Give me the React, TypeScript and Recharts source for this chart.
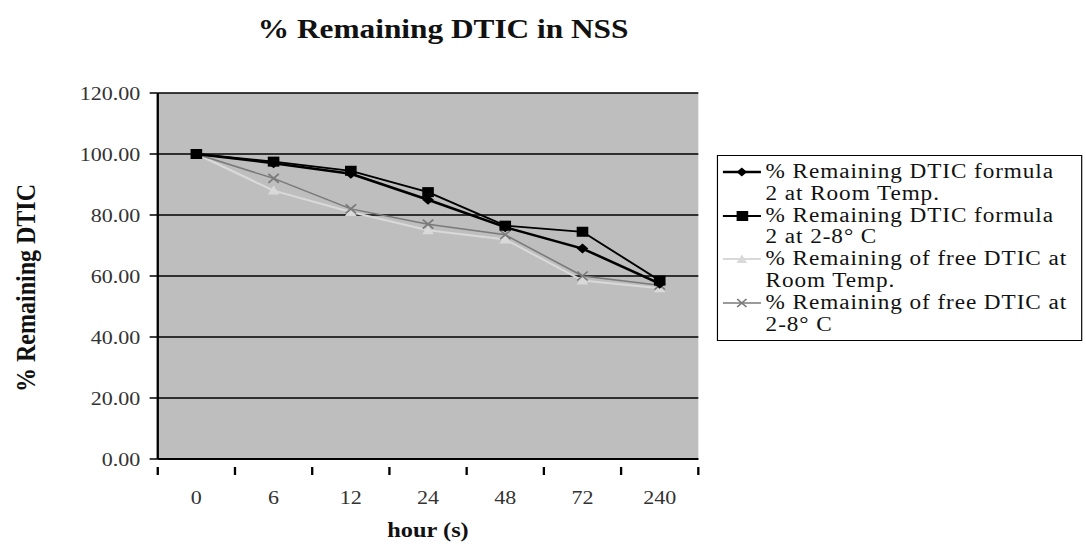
import React from "react";
import { LineChart, Line, XAxis, YAxis, CartesianGrid } from "recharts";

// sampling times (hours) and % DTIC remaining for each storage condition
const hours = ["0", "6", "12", "24", "48", "72", "240"];
const formulaRoomTemp = [100, 97, 93.5, 85, 76, 69, 57.5];
const formulaCold = [100, 97.5, 94.5, 87.5, 76.5, 74.5, 58.5];
const freeRoomTemp = [100, 88, 81, 75, 72, 58.5, 56];
const freeCold = [100, 92, 82, 77, 73.5, 60, 57];
const yTicks = [0, 20, 40, 60, 80, 100, 120];

const seriesNames = [
  ["% Remaining DTIC formula", "2 at Room Temp."],
  ["% Remaining DTIC formula", "2 at 2-8° C"],
  ["% Remaining of free DTIC at", "Room Temp."],
  ["% Remaining of free DTIC at", "2-8° C"],
];

const data = hours.map((h, i) => ({
  hour: h,
  formulaRoomTemp: formulaRoomTemp[i],
  formulaCold: formulaCold[i],
  freeRoomTemp: freeRoomTemp[i],
  freeCold: freeCold[i],
}));

// the whole figure is a little wider than tall, so draw narrow and stretch
const STRETCH = 1.16;
const W = 936;
const H = 544;
const PLOT_LEFT = 136;
const PLOT_RIGHT = 602;
const HALF_BAND = (PLOT_RIGHT - PLOT_LEFT) / hours.length / 2;

const FONT = "'Liberation Serif', 'Times New Roman', serif";
const LIGHT = "#d9d9d9";
const MID = "#7a7a7a";

type DotProps = { cx?: number; cy?: number; index?: number };

const diamondDot = (p: DotProps) => {
  const { cx = 0, cy = 0 } = p;
  const r = 5;
  return (
    <polygon
      key={`d-${p.index}`}
      points={`${cx},${cy - r} ${cx + r},${cy} ${cx},${cy + r} ${cx - r},${cy}`}
      fill="#000"
    />
  );
};

const squareDot = (p: DotProps) => {
  const { cx = 0, cy = 0 } = p;
  return <rect key={`s-${p.index}`} x={cx - 5} y={cy - 5} width={10} height={10} fill="#000" />;
};

const triangleDot = (p: DotProps) => {
  const { cx = 0, cy = 0 } = p;
  return (
    <polygon
      key={`t-${p.index}`}
      points={`${cx},${cy - 5} ${cx + 5},${cy + 4} ${cx - 5},${cy + 4}`}
      fill={LIGHT}
    />
  );
};

const crossDot = (p: DotProps) => {
  const { cx = 0, cy = 0 } = p;
  const r = 4.5;
  return (
    <g key={`x-${p.index}`} stroke={MID} strokeWidth={1.5}>
      <line x1={cx - r} y1={cy - r} x2={cx + r} y2={cy + r} />
      <line x1={cx - r} y1={cy + r} x2={cx + r} y2={cy - r} />
    </g>
  );
};

// small legend glyphs, same look as the plotted markers
const legendIcons = [
  <g key="a">
    <line x1={0} y1={8} x2={33} y2={8} stroke="#000" strokeWidth={2.5} />
    <polygon points="16.5,3.5 21,8 16.5,12.5 12,8" fill="#000" />
  </g>,
  <g key="b">
    <line x1={0} y1={8} x2={33} y2={8} stroke="#000" strokeWidth={1.8} />
    <rect x={12} y={3} width={10} height={10} fill="#000" />
  </g>,
  <g key="c">
    <line x1={0} y1={8} x2={33} y2={8} stroke={LIGHT} strokeWidth={2} />
    <polygon points="16.5,3.5 21,12 12,12" fill={LIGHT} />
  </g>,
  <g key="d">
    <line x1={0} y1={8} x2={33} y2={8} stroke={MID} strokeWidth={1.5} />
    <line x1={12.5} y1={4} x2={20.5} y2={12} stroke={MID} strokeWidth={1.5} />
    <line x1={12.5} y1={12} x2={20.5} y2={4} stroke={MID} strokeWidth={1.5} />
  </g>,
];

function ChartLegend() {
  return (
    <div
      style={{
        position: "absolute",
        left: 618,
        top: 155,
        border: "1.5px solid #000",
        background: "#fff",
        width: 315,
        height: 186,
        boxSizing: "border-box",
        padding: "5px 0 0 4px",
        fontFamily: FONT,
        fontSize: 20,
        letterSpacing: 0.8,
        lineHeight: "21.8px",
        color: "#111",
      }}
    >
      {seriesNames.map((lines, i) => (
        <div key={i} style={{ display: "flex", alignItems: "flex-start" }}>
          <svg width={37} height={16} style={{ marginTop: 3, flex: "none" }}>
            {legendIcons[i]}
          </svg>
          <div style={{ whiteSpace: "nowrap" }}>
            {lines.map((l) => (
              <div key={l}>{l}</div>
            ))}
          </div>
        </div>
      ))}
    </div>
  );
}

const XTick = (props: { x?: number; y?: number; index?: number; payload?: { value: string } }) => {
  const { x = 0, y = 0, index = 0, payload } = props;
  return (
    <g>
      {index === 0 && (
        <line x1={x - HALF_BAND} y1={y} x2={x - HALF_BAND} y2={y + 8} stroke="#000" strokeWidth={2} />
      )}
      <line x1={x + HALF_BAND} y1={y} x2={x + HALF_BAND} y2={y + 8} stroke="#000" strokeWidth={2} />
      <text
        x={x}
        y={y + 37}
        textAnchor="middle"
        fontFamily={FONT}
        fontSize={19}
        fill="#333"
      >
        {payload?.value}
      </text>
    </g>
  );
};

const YLabel = (props: { viewBox?: { x: number; y: number; width: number; height: number } }) => {
  const vb = props.viewBox ?? { x: 0, y: 0, width: 0, height: 0 };
  const cy = vb.y + vb.height / 2 + 12;
  return (
    <text
      x={22}
      y={cy}
      transform={`rotate(-90, 22, ${cy})`}
      textAnchor="middle"
      dominantBaseline="central"
      fontFamily={FONT}
      fontWeight="bold"
      fontSize={24}
      fill="#111"
    >
      % Remaining DTIC
    </text>
  );
};

const XLabel = (props: { viewBox?: { x: number; y: number; width: number; height: number } }) => {
  const vb = props.viewBox ?? { x: 0, y: 0, width: 0, height: 0 };
  return (
    <text
      x={vb.x + vb.width / 2}
      y={537}
      textAnchor="middle"
      fontFamily={FONT}
      fontWeight="bold"
      fontSize={21}
      fill="#111"
    >
      hour (s)
    </text>
  );
};

export default function App() {
  return (
    <div
      style={{
        position: "absolute",
        left: 0,
        top: 0,
        width: W,
        height: H,
        background: "#fff",
        transform: `scaleX(${STRETCH})`,
        transformOrigin: "0 0",
      }}
    >
      <div
        style={{
          position: "absolute",
          left: 0,
          width: 764,
          top: 14,
          textAlign: "center",
          fontFamily: FONT,
          fontWeight: "bold",
          fontSize: 27,
          color: "#111",
        }}
      >
        % Remaining DTIC in NSS
      </div>
      <LineChart
        width={W}
        height={H}
        data={data}
        margin={{ top: 93, right: W - PLOT_RIGHT, bottom: 0, left: 0 }}
        style={{ position: "absolute", left: 0, top: 0 }}
      >
        <CartesianGrid
          vertical={false}
          stroke="#000"
          strokeWidth={1.5}
          fill="#bebebe"
          fillOpacity={1}
        />
        <XAxis
          dataKey="hour"
          padding={{ left: HALF_BAND, right: HALF_BAND }}
          axisLine={{ stroke: "#000", strokeWidth: 2 }}
          tickLine={false}
          tick={<XTick />}
          interval={0}
          height={85}
          label={<XLabel />}
        />
        <YAxis
          width={PLOT_LEFT}
          domain={[0, 120]}
          ticks={yTicks}
          tickFormatter={(v: number) => v.toFixed(2)}
          axisLine={{ stroke: "#000", strokeWidth: 2 }}
          tickLine={{ stroke: "#000", strokeWidth: 1.5 }}
          tickSize={7}
          tickMargin={8}
          tick={{ fontFamily: FONT, fontSize: 19, fill: "#333" }}
          label={<YLabel />}
        />
        <YAxis
          yAxisId="frame"
          orientation="right"
          width={0}
          tick={false}
          tickLine={false}
          axisLine={{ stroke: "#333", strokeWidth: 1.5 }}
        />
        <Line
          dataKey="freeRoomTemp"
          stroke={LIGHT}
          strokeWidth={2}
          dot={triangleDot}
          isAnimationActive={false}
        />
        <Line
          dataKey="freeCold"
          stroke={MID}
          strokeWidth={1.5}
          dot={crossDot}
          isAnimationActive={false}
        />
        <Line
          dataKey="formulaCold"
          stroke="#000"
          strokeWidth={1.8}
          dot={squareDot}
          isAnimationActive={false}
        />
        <Line
          dataKey="formulaRoomTemp"
          stroke="#000"
          strokeWidth={2.5}
          dot={diamondDot}
          isAnimationActive={false}
        />
      </LineChart>
      <ChartLegend />
    </div>
  );
}
